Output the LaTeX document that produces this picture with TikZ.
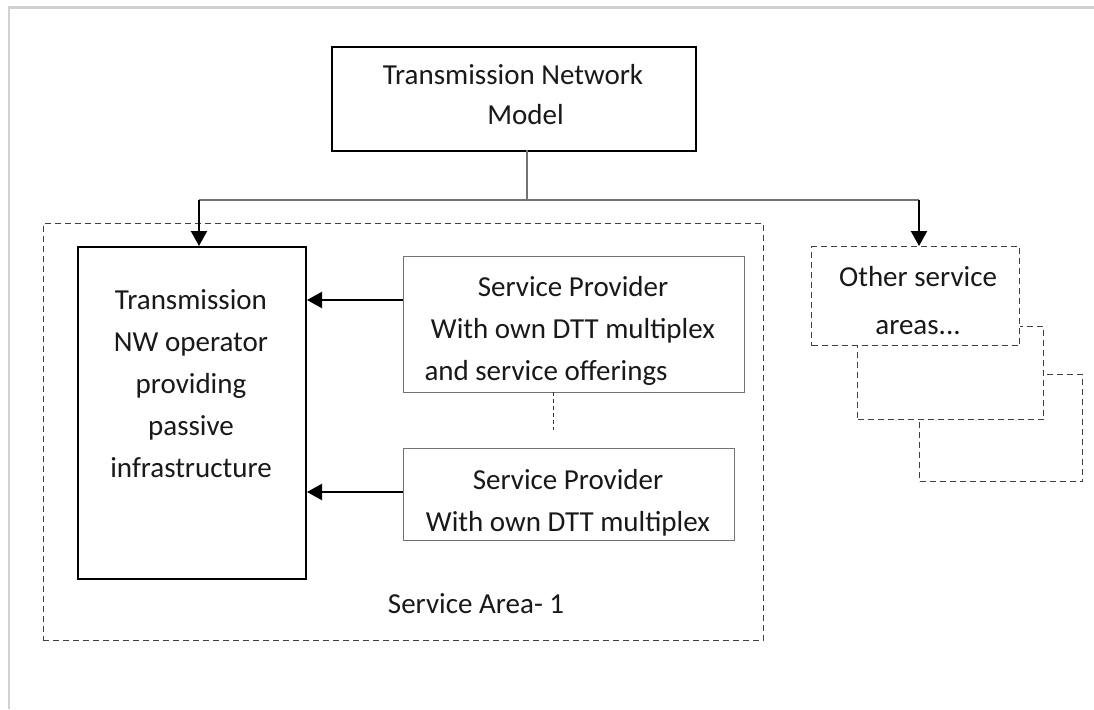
\documentclass[tikz,border=0pt]{standalone}
\usepackage{fontspec}
\setmainfont{Carlito}
\usetikzlibrary{arrows.meta}
\begin{document}
\begin{tikzpicture}[x=1pt,y=-1pt,
  txt/.style={font=\fontsize{29}{42}\selectfont, align=center, inner sep=0pt, text=black!90},
  solidbox/.style={draw=black, line width=2pt, fill=white, inner sep=0pt, anchor=north west},
  spbox/.style={draw=black!55, line width=1.3pt, fill=white, inner sep=0pt, anchor=north west},
  dbox/.style={draw=black!75, line width=1.3pt, dash pattern=on 6pt off 4pt, fill=white, inner sep=0pt, anchor=north west},
  conn/.style={draw=black!55, line width=1.3pt},
  arr/.style={draw=black, line width=2.2pt, -{Triangle[length=15pt,width=16pt]}},
  fine/.style={draw=black!80, line width=1pt, dash pattern=on 4pt off 3pt},
]
\useasboundingbox (0,0) rectangle (1094,709);
\draw[black!18, line width=2.5pt] (9,709) -- (9,7.5) -- (1094,7.5);

% service area frame
\node[dbox, fill=none, minimum width=720.5pt, minimum height=417pt] (area) at (42.5,223) {};
\node[txt] (areatxt) at (476,604) {Service Area- 1};

% top box
\node[solidbox, minimum width=364pt, minimum height=104pt] (tnm) at (331,46) {};
\node[txt, font=\fontsize{29}{40}\selectfont] (tnmtxt) at (513,95) {Transmission Network\\\rule{25pt}{0pt}Model};

% left box
\node[solidbox, minimum width=228pt, minimum height=332pt] (op) at (77,246) {};
\node[txt] (optxt) at (191,384) {Transmission\\NW operator\\providing\\passive\\infrastructure};

% service providers
\node[spbox, minimum width=341pt, minimum height=136pt] (sp1) at (402.5,256) {};
\node[txt] (sp1txt) at (573,330.5) {Service Provider\\With own DTT multiplex\\and service offerings\rule{54pt}{0pt}};
\node[spbox, minimum width=331pt, minimum height=92pt] (sp2) at (402.5,448) {};
\node[txt] (sp2txt) at (568,503) {Service Provider\\With own DTT multiplex};

% other service areas stack
\node[dbox, minimum width=163pt, minimum height=107pt] (osa3) at (919,374) {};
\node[dbox, minimum width=186pt, minimum height=93pt] (osa2) at (857,326) {};
\node[dbox, minimum width=208pt, minimum height=99pt] (osa1) at (811,246) {};
\node[txt, font=\fontsize{29}{48}\selectfont] (osatxt) at (918,301) {Other service\\areas...};

% connectors
\coordinate (jt) at (527,150);
\coordinate (jm) at (527,200);
\coordinate (jl) at (199,200);
\coordinate (jr) at (919,200);
\draw[conn] (jt) -- (jm);
\draw[conn] (jl) -- (jr);
\draw[arr] (jl) -- (jl |- op.north);
\draw[arr] (jr) -- (jr |- osa1.north);
\draw[arr] (sp1.west |- 0,300) -- (op.east |- 0,300);
\draw[arr] (sp2.west |- 0,492) -- (op.east |- 0,492);
\coordinate (dtop) at (553,392);
\coordinate (dend) at (553,430);
\draw[fine] (dtop) -- (dend);
\end{tikzpicture}
\end{document}
